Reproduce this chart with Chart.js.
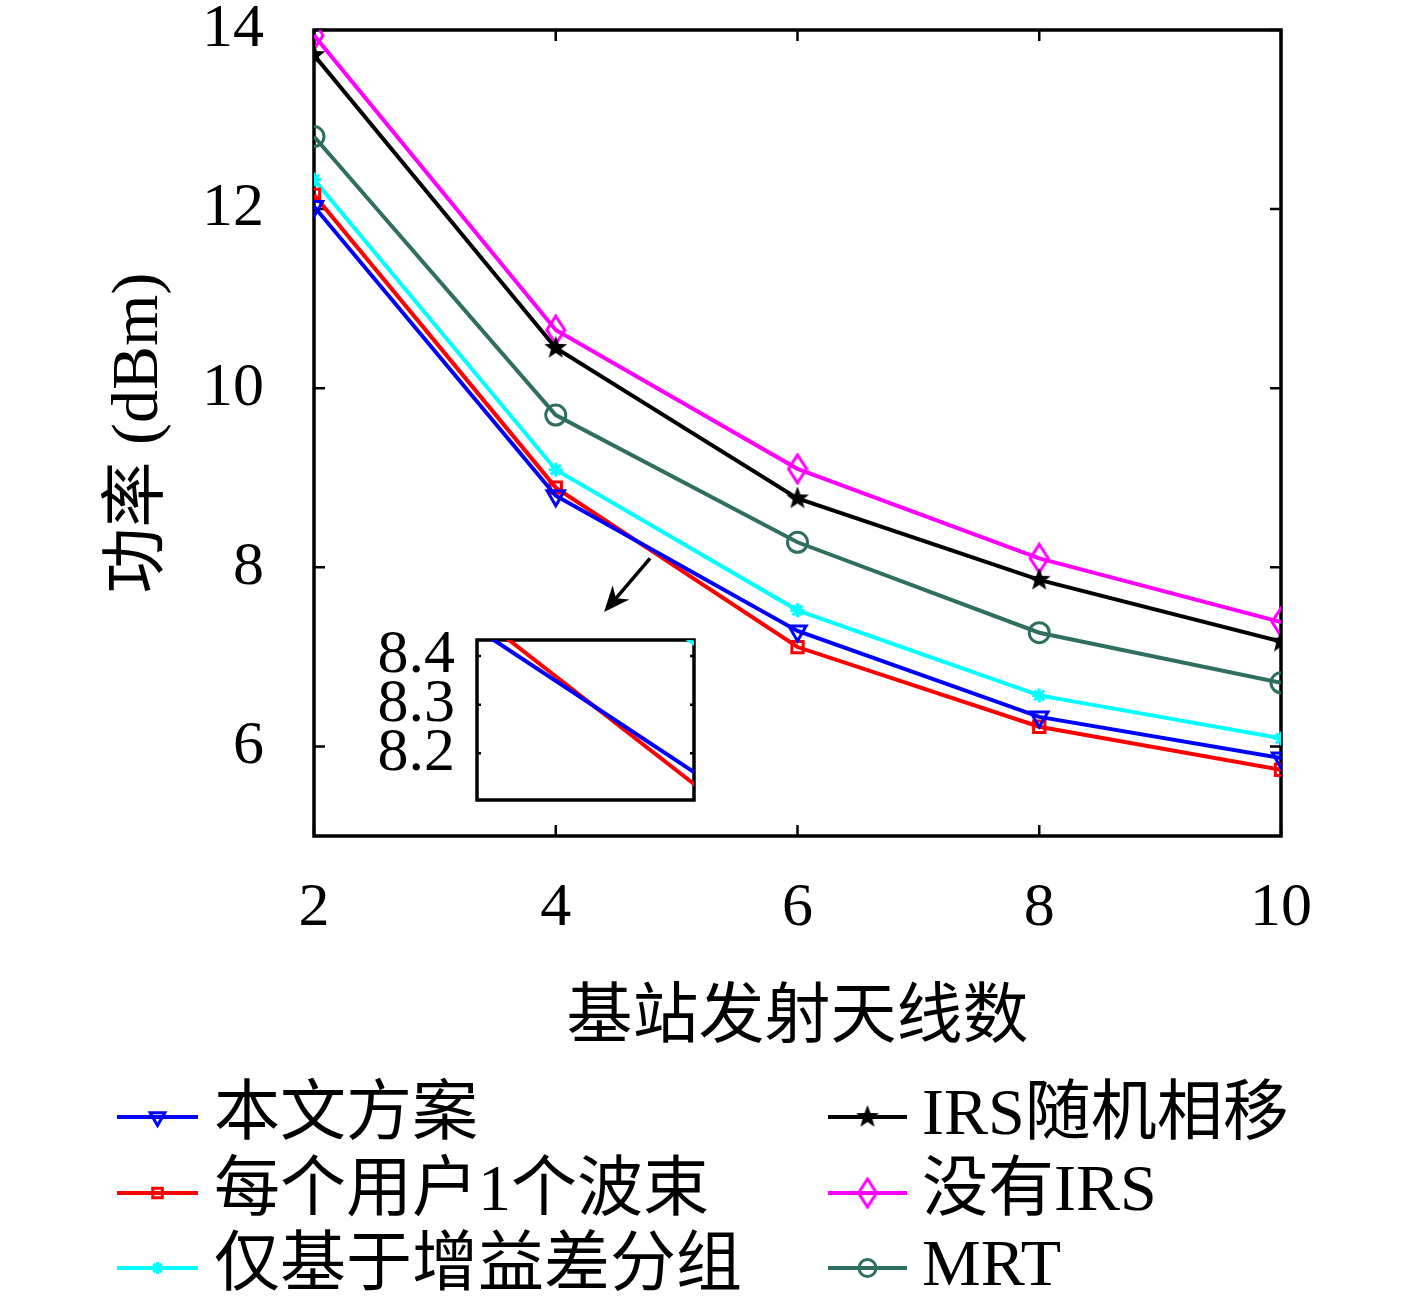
<!DOCTYPE html>
<html>
<head>
<meta charset="utf-8">
<script src="https://cdn.jsdelivr.net/npm/chart.js@4.4.1/dist/chart.umd.min.js"></script>
<style>
html, body { margin: 0; padding: 0; background: #fff; }
#wrap { position: relative; width: 1417px; height: 1306px; }
#main { position: absolute; left: 0; top: 0; }
#inset { position: absolute; left: 360px; top: 610px; }
</style>
</head>
<body>
<div id="wrap">
  <canvas id="main" width="1417" height="1306"></canvas>
  <canvas id="inset" width="350" height="210"></canvas>
</div>
<script>
// data
const antennas = [2, 4, 6, 8, 10];
const proposed = [12.03, 8.80, 7.29, 6.33, 5.87];
const oneBeamPerUser = [12.16, 8.89, 7.11, 6.22, 5.74];
const gainDiffOnly = [12.33, 9.09, 7.52, 6.57, 6.09];
const irsRandomPhase = [13.72, 10.45, 8.77, 7.86, 7.17];
const noIrs = [13.94, 10.65, 9.10, 8.10, 7.39];
const mrt = [12.81, 9.70, 8.28, 7.27, 6.71];
const seriesNames = ['本文方案', '每个用户1个波束', '仅基于增益差分组', 'IRS随机相移', '没有IRS', 'MRT'];
const xTicks = [2, 4, 6, 8, 10];
const yTicks = [6, 8, 10, 12, 14];
const insetYTicks = [8.2, 8.3, 8.4];
const xTitle = '基站发射天线数';
const yTitle = '功率 (dBm)';

const serif = "'Liberation Serif', 'Noto Sans CJK SC', serif";

// marker images
function pentagram(r, color) {
  const c = document.createElement('canvas');
  c.width = c.height = 2 * r + 2;
  const g = c.getContext('2d');
  g.fillStyle = color;
  g.beginPath();
  for (let i = 0; i < 10; i++) {
    const rad = i % 2 ? r * 0.42 : r;
    const a = -Math.PI / 2 + i * Math.PI / 5;
    g.lineTo(r + 1 + rad * Math.cos(a), r + 1 + rad * Math.sin(a));
  }
  g.closePath();
  g.fill();
  return c;
}
function diamond(w, h, color) {
  const c = document.createElement('canvas');
  c.width = w + 4; c.height = h + 4;
  const g = c.getContext('2d');
  g.strokeStyle = color;
  g.lineWidth = 3;
  g.beginPath();
  g.moveTo(w / 2 + 2, 2); g.lineTo(w + 2, h / 2 + 2);
  g.lineTo(w / 2 + 2, h + 2); g.lineTo(2, h / 2 + 2);
  g.closePath();
  g.stroke();
  return c;
}

const seriesData = [proposed, oneBeamPerUser, gainDiffOnly, irsRandomPhase, noIrs, mrt];
const looks = [
  { color: '#0000ff', pointStyle: 'triangle', rotation: 180, radius: 10 },
  { color: '#ff0000', pointStyle: 'rect', rotation: 0, radius: 8 },
  { color: '#00ffff', pointStyle: 'star', rotation: 0, radius: 7 },
  { color: '#000000', pointStyle: pentagram(12, '#000'), rotation: 0, radius: 10 },
  { color: '#ff00ff', pointStyle: diamond(18, 28, '#ff00ff'), rotation: 0, radius: 10 },
  { color: '#2f6f60', pointStyle: 'circle', rotation: 0, radius: 10 }
];

function makeDatasets(withPoints) {
  return seriesData.map((arr, i) => ({
    label: seriesNames[i],
    data: antennas.map((x, j) => ({ x: x, y: arr[j] })),
    borderColor: looks[i].color,
    backgroundColor: 'rgba(0,0,0,0)',
    borderWidth: 4,
    pointStyle: looks[i].pointStyle,
    rotation: looks[i].rotation,
    pointRadius: withPoints ? looks[i].radius : 0,
    pointBorderWidth: 3,
    pointBorderColor: looks[i].color,
    pointBackgroundColor: 'rgba(0,0,0,0)',
    tension: 0
  }));
}

function boxAndTicks(len, doX, xt, yt) {
  return {
    id: 'boxTicks',
    beforeDatasetsDraw(chart) {
      const { ctx, chartArea: a, scales } = chart;
      ctx.save();
      ctx.strokeStyle = '#000';
      ctx.lineWidth = 3.5;
      ctx.strokeRect(a.left, a.top, a.right - a.left, a.bottom - a.top);
      ctx.lineWidth = 2.5;
      ctx.beginPath();
      if (doX) {
        xt.forEach(v => {
          const px = scales.x.getPixelForValue(v);
          ctx.moveTo(px, a.bottom); ctx.lineTo(px, a.bottom - len);
          ctx.moveTo(px, a.top); ctx.lineTo(px, a.top + len);
        });
      }
      yt.forEach(v => {
        const py = scales.y.getPixelForValue(v);
        ctx.moveTo(a.left, py); ctx.lineTo(a.left + len, py);
        ctx.moveTo(a.right, py); ctx.lineTo(a.right - len, py);
      });
      ctx.stroke();
      ctx.restore();
    }
  };
}

const whiteBg = {
  id: 'whiteBg',
  beforeDraw(chart) {
    const { ctx, chartArea: a } = chart;
    ctx.save();
    ctx.fillStyle = '#fff';
    ctx.fillRect(a.left, a.top, a.right - a.left, a.bottom - a.top);
    ctx.restore();
  }
};

// zoom arrow, in data units
const arrowPlugin = {
  id: 'arrow',
  afterDatasetsDraw(chart) {
    const { ctx, scales: { x, y } } = chart;
    const x0 = x.getPixelForValue(4.78), y0 = y.getPixelForValue(8.10);
    const x1 = x.getPixelForValue(4.40), y1 = y.getPixelForValue(7.50);
    const ang = Math.atan2(y1 - y0, x1 - x0);
    const hl = 26, hw = 11;
    ctx.save();
    ctx.strokeStyle = '#000'; ctx.fillStyle = '#000'; ctx.lineWidth = 3.5;
    ctx.beginPath();
    ctx.moveTo(x0, y0);
    ctx.lineTo(x1 - Math.cos(ang) * hl * 0.7, y1 - Math.sin(ang) * hl * 0.7);
    ctx.stroke();
    ctx.beginPath();
    ctx.moveTo(x1, y1);
    ctx.lineTo(x1 - Math.cos(ang) * hl + Math.sin(ang) * hw, y1 - Math.sin(ang) * hl - Math.cos(ang) * hw);
    ctx.lineTo(x1 - Math.cos(ang) * hl * 0.7, y1 - Math.sin(ang) * hl * 0.7);
    ctx.lineTo(x1 - Math.cos(ang) * hl - Math.sin(ang) * hw, y1 - Math.sin(ang) * hl + Math.cos(ang) * hw);
    ctx.closePath();
    ctx.fill();
    ctx.restore();
  }
};

// two-column legend under the axis title
const legendPlugin = {
  id: 'matLegend',
  afterDraw(chart) {
    const ctx = chart.ctx;
    const cols = [{ x0: 117, x1: 198, tx: 214 }, { x0: 828, x1: 907, tx: 922 }];
    const rows = [1117, 1193, 1268];
    ctx.save();
    chart.data.datasets.forEach((ds, i) => {
      const c = cols[Math.floor(i / 3)];
      const yy = rows[i % 3];
      ctx.strokeStyle = ds.borderColor;
      ctx.lineWidth = 4;
      ctx.beginPath();
      ctx.moveTo(c.x0, yy); ctx.lineTo(c.x1, yy);
      ctx.stroke();
      ctx.fillStyle = 'rgba(0,0,0,0)';
      ctx.lineWidth = 3;
      Chart.helpers.drawPoint(ctx, {
        pointStyle: ds.pointStyle, rotation: ds.rotation,
        radius: ds.pointRadius * 0.85, borderWidth: 3
      }, (c.x0 + c.x1) / 2, yy);
      ctx.fillStyle = '#000';
      ctx.font = '66px ' + serif;
      ctx.textBaseline = 'middle';
      ctx.textAlign = 'left';
      ctx.fillText(ds.label, c.tx, yy);
    });
    ctx.restore();
  }
};

new Chart(document.getElementById('main'), {
  type: 'line',
  data: { datasets: makeDatasets(true) },
  options: {
    responsive: false,
    animation: false,
    devicePixelRatio: 1,
    layout: { padding: { left: 0, top: 30, right: 136, bottom: 0 } },
    plugins: { legend: { display: false }, tooltip: { enabled: false } },
    scales: {
      x: {
        type: 'linear', min: 2, max: 10,
        afterBuildTicks: s => { s.ticks = xTicks.map(v => ({ value: v })); },
        afterFit: s => { s.height = 470; s.paddingLeft = 0; s.paddingRight = 0; },
        grid: { display: false, drawTicks: false },
        border: { display: false },
        ticks: { color: '#000', font: { family: serif, size: 62 }, padding: 36, maxRotation: 0 },
        title: { display: true, text: xTitle, color: '#000', font: { family: serif, size: 66 }, padding: { top: 0, bottom: 247 } }
      },
      y: {
        type: 'linear', min: 5, max: 14,
        afterBuildTicks: s => { s.ticks = yTicks.map(v => ({ value: v })); },
        afterFit: s => { s.width = 314; s.paddingTop = 0; s.paddingBottom = 0; },
        grid: { display: false, drawTicks: false },
        border: { display: false },
        ticks: { color: '#000', font: { family: serif, size: 62 }, padding: 50 },
        title: { display: true, text: yTitle, color: '#000', font: { family: serif, size: 66 }, padding: { top: 100, bottom: 0 } }
      }
    }
  },
  plugins: [whiteBg, boxAndTicks(11, true, xTicks, yTicks), arrowPlugin, legendPlugin]
});

new Chart(document.getElementById('inset'), {
  type: 'line',
  data: { datasets: makeDatasets(false) },
  options: {
    responsive: false,
    animation: false,
    devicePixelRatio: 1,
    layout: { padding: { left: 0, top: 30, right: 16, bottom: 20 } },
    plugins: { legend: { display: false }, tooltip: { enabled: false } },
    scales: {
      x: { type: 'linear', min: 4.456, max: 4.846, display: false },
      y: {
        type: 'linear', min: 8.104, max: 8.433,
        afterBuildTicks: s => { s.ticks = insetYTicks.map(v => ({ value: v })); },
        afterFit: s => { s.width = 117; s.paddingTop = 0; s.paddingBottom = 0; },
        grid: { display: false, drawTicks: false },
        border: { display: false },
        ticks: { color: '#000', autoSkip: false, font: { family: serif, size: 62 }, padding: 22,
                 callback: v => v.toFixed(1) }
      }
    }
  },
  plugins: [whiteBg, boxAndTicks(4, false, [], insetYTicks)]
});
</script>
</body>
</html>
